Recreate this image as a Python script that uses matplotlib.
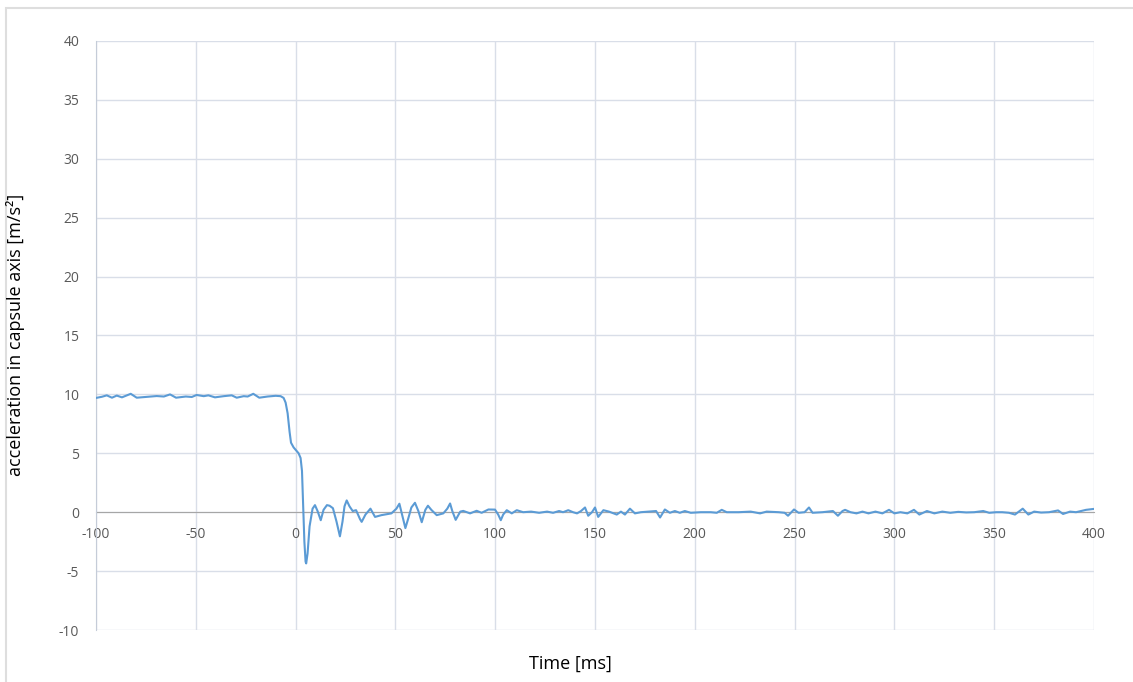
import matplotlib.pyplot as plt
from matplotlib.patches import Rectangle


# time [ms] and acceleration [m/s2]
time_ms = [
    -100, -97, -94.6, -92, -89.6, -87, -82.6, -79.6, -74, -69.6, -66, -62.9,
    -59.9, -55, -52, -49.6, -46, -43.7, -40.4, -36, -32, -29.5, -26, -24,
    -21.2, -18.2, -14, -10, -7.5, -6, -5, -4, -3, -2.3, -1, 0.5, 1.5, 2.5,
    3.2, 3.8, 4.4, 5.0, 5.3, 6.0, 7.0, 8.5, 9.7, 11, 12.6, 14, 15.7, 17,
    18.7, 20.5, 22.2, 23.5, 24.5, 25.6, 27, 28.6, 30.3, 32.3, 33.1, 35,
    37.5, 39.8, 43, 48, 50.5, 52, 53.5, 55, 56.5, 58, 59.8, 61.5, 63.2, 65,
    66.3, 68, 70.7, 74, 76, 77.4, 78.5, 80.2, 82.5, 84, 87.4, 90.7, 93.2,
    96.6, 99.9, 101.5, 102.8, 104, 105.8, 108.3, 110.8, 114, 118, 122, 126,
    129, 132, 134, 136.6, 139, 141, 143, 145, 146.6, 148.5, 150, 151.6,
    154.2, 157, 160.9, 163, 165, 167.5, 170, 173, 177, 180.6, 182.6, 185,
    187.5, 190, 192.5, 195, 198, 203, 208, 211, 213.5, 216, 222, 228, 232.7,
    236, 242, 245, 246.7, 249.7, 252, 255, 257.2, 259, 264, 269.2, 271.7,
    274, 275.3, 278, 281, 284, 287, 290.5, 294, 297.3, 300, 303, 306.5,
    309.8, 312.5, 316.3, 320, 324, 328, 332, 336, 340, 344.5, 347.5, 351,
    354, 357.4, 360.4, 364.3, 367.1, 370, 373.5, 377.5, 382, 384.5, 388,
    391, 396, 400,
]
accel = [
    9.70, 9.80, 9.92, 9.72, 9.90, 9.75, 10.05, 9.72, 9.80, 9.86, 9.82, 10.0,
    9.72, 9.82, 9.78, 9.95, 9.85, 9.92, 9.75, 9.85, 9.92, 9.72, 9.85, 9.82,
    10.05, 9.72, 9.82, 9.88, 9.85, 9.70, 9.3, 8.4, 6.8, 5.9, 5.5, 5.2, 5.0,
    4.6, 3.5, 0.5, -2.5, -4.2, -4.35, -3.5, -1.2, 0.3, 0.6, 0.1, -0.68, 0.2,
    0.6, 0.55, 0.34, -0.8, -2.05, -0.8, 0.5, 1.0, 0.5, 0.1, 0.17, -0.6,
    -0.82, -0.2, 0.3, -0.4, -0.25, -0.1, 0.3, 0.72, -0.3, -1.35, -0.5, 0.4,
    0.8, 0.1, -0.85, 0.2, 0.55, 0.2, -0.25, -0.1, 0.3, 0.74, 0.1, -0.65,
    0.05, 0.11, -0.1, 0.12, -0.05, 0.23, 0.22, -0.2, -0.68, -0.2, 0.17,
    -0.1, 0.17, 0.0, 0.05, -0.05, 0.05, -0.05, 0.1, 0.0, 0.17, 0.0, -0.1,
    0.1, 0.4, -0.3, 0.0, 0.4, -0.4, 0.17, 0.05, -0.2, 0.05, -0.2, 0.3, -0.1,
    0.0, 0.05, 0.1, -0.45, 0.23, -0.05, 0.1, -0.05, 0.1, -0.05, 0.0, 0.0,
    -0.05, 0.2, 0.0, 0.0, 0.05, -0.1, 0.05, 0.0, -0.05, -0.3, 0.23, -0.05,
    0.0, 0.4, -0.05, 0.0, 0.1, -0.3, 0.1, 0.2, 0.0, -0.1, 0.05, -0.1, 0.05,
    -0.1, 0.2, -0.1, 0.0, -0.1, 0.2, -0.2, 0.1, -0.1, 0.05, -0.05, 0.03,
    -0.02, 0.0, 0.1, -0.05, 0.0, 0.0, -0.05, -0.2, 0.3, -0.2, 0.05, -0.03,
    0.0, 0.15, -0.15, 0.05, 0.0, 0.2, 0.28,
]

x_ticks = list(range(-100, 401, 50))
y_ticks = list(range(-10, 41, 5))

grid_color = '#d9dee8'
label_color = '#595959'

plt.rcParams['font.family'] = ['Open Sans', 'DejaVu Sans']
plt.rcParams['axes.unicode_minus'] = False

fig = plt.figure(figsize=(11.33, 6.82), dpi=100)
ax = fig.add_axes([96 / 1133, 1 - 630 / 682, (1094 - 96) / 1133, (630 - 41) / 682])

# light frame around the whole chart, like the excel chart area
fig.patches.append(Rectangle((6 / 1133, -0.1), 1.1, 1.1 - 8 / 682,
                             transform=fig.transFigure, fill=False,
                             edgecolor='#dedede', linewidth=1.5, clip_on=False))

ax.plot(time_ms, accel, color='#5b9bd5', linewidth=1.5, zorder=3)

ax.set_xlim(-100, 400)
ax.set_ylim(-10, 40)
ax.set_xticks(x_ticks)
ax.set_yticks(y_ticks)
ax.grid(True, color=grid_color, linewidth=1.0, zorder=0)

# horizontal axis crosses at zero
for side in ['top', 'right']:
    ax.spines[side].set_visible(False)
ax.spines['bottom'].set_position(('data', 0))
ax.spines['bottom'].set_color('#a6a6a6')
ax.spines['bottom'].set_zorder(2)
ax.spines['left'].set_color('#c5ccd8')

ax.tick_params(axis='both', length=0, labelsize=10, labelcolor=label_color)
ax.tick_params(axis='x', pad=11)
ax.tick_params(axis='y', pad=12)

fig.text(16 / 1133, 1 - 335 / 682, 'acceleration in capsule axis [m/s²]',
         rotation=90, ha='center', va='center', fontsize=13, color='black')
fig.text(570 / 1133, 1 - 664 / 682, 'Time [ms]',
         ha='center', va='center', fontsize=13, color='black')

fig.savefig('out.png', dpi=100)
